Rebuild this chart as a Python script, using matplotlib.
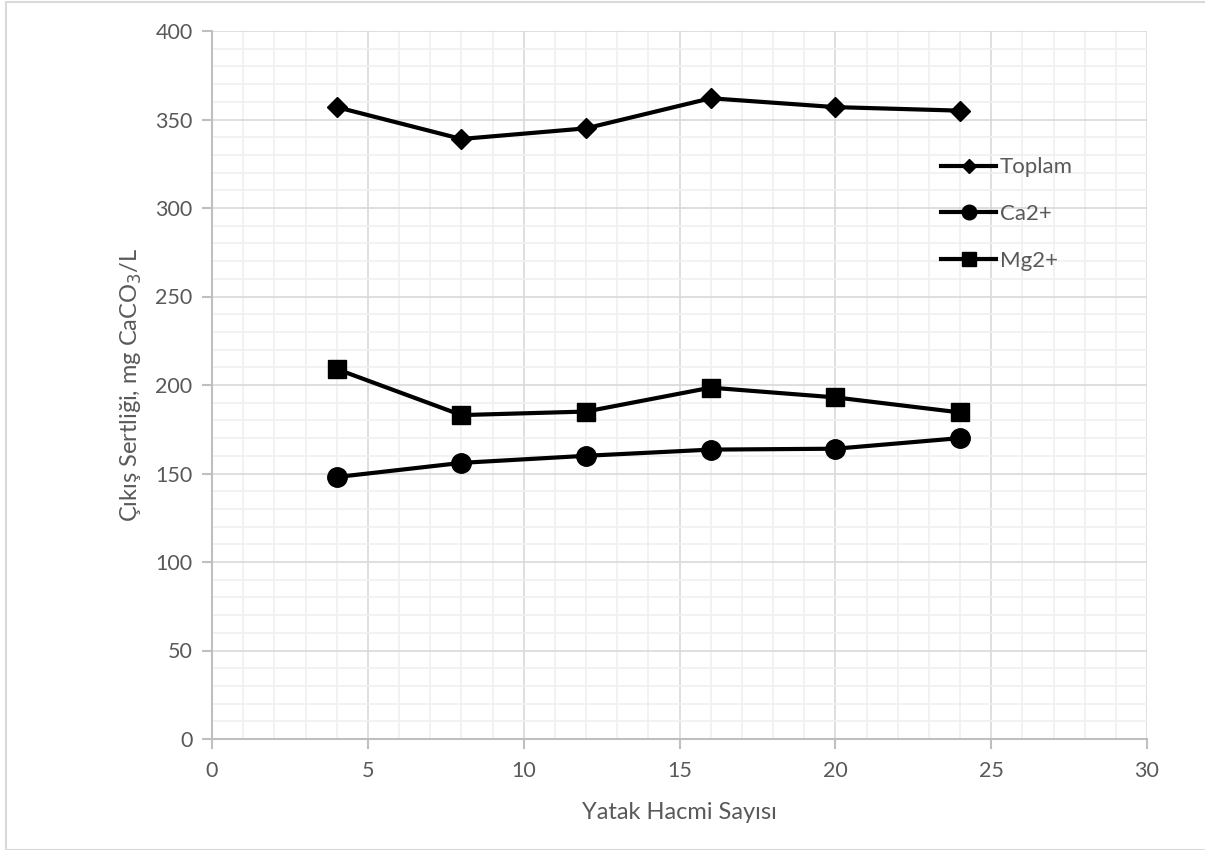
import matplotlib.pyplot as plt
from matplotlib.patches import Rectangle
from matplotlib.ticker import MultipleLocator

# Data
yatak_hacmi = [4, 8, 12, 16, 20, 24]
toplam = [357, 339, 345, 362, 357, 355]
ca2 = [148, 156, 160, 163.5, 164, 170]
mg2 = [209, 183, 185, 198.5, 193, 184.5]

plt.rcParams['font.family'] = ['Lato', 'DejaVu Sans']
text_color = "#595959"

fig = plt.figure(figsize=(12.05, 8.5), dpi=100)
ax = fig.add_axes([212 / 1205, 1 - 739 / 850, (1147 - 212) / 1205, (739 - 31) / 850])

# Outer chart border
fig.patches.append(Rectangle((6 / 1205, 0), 1.1, 1 - 2 / 850, transform=fig.transFigure,
                             fill=False, edgecolor="#d9d9d9", linewidth=1.5))

ax.plot(yatak_hacmi, toplam, color="black", linewidth=3, marker="D", markersize=10, label="Toplam")
ax.plot(yatak_hacmi, ca2, color="black", linewidth=3, marker="o", markersize=14, label="Ca2+")
ax.plot(yatak_hacmi, mg2, color="black", linewidth=3, marker="s", markersize=13, label="Mg2+")

ax.set_xlim(0, 30)
ax.set_ylim(0, 400)
ax.xaxis.set_major_locator(MultipleLocator(5))
ax.xaxis.set_minor_locator(MultipleLocator(1))
ax.yaxis.set_major_locator(MultipleLocator(50))
ax.yaxis.set_minor_locator(MultipleLocator(10))
ax.grid(which="major", color="#d9d9d9", linewidth=1.2)
ax.grid(which="minor", color="#f0f0f0", linewidth=1.2)
ax.set_axisbelow(True)

for side in ["top", "right"]:
    ax.spines[side].set_visible(False)
for side in ["left", "bottom"]:
    ax.spines[side].set_color("#bfbfbf")
    ax.spines[side].set_linewidth(1.5)

ax.tick_params(which="major", length=7, width=1.5, color="#bfbfbf", labelsize=15.5,
               labelcolor=text_color, pad=7)
ax.tick_params(axis="x", which="major", pad=9)
ax.tick_params(which="minor", length=0)

ax.set_xlabel("Yatak Hacmi Sayısı", fontsize=17, color=text_color, labelpad=15)
ax.set_ylabel("Çıkış Sertliği, mg CaCO$_3$/L", fontsize=17, color=text_color, labelpad=8)

ax.legend(loc="upper left", bbox_to_anchor=(0.77, 0.834), frameon=False, fontsize=16,
          labelcolor=text_color, handlelength=2.5, handletextpad=0.15, labelspacing=1.2,
          markerscale=0.75, borderaxespad=0)

fig.savefig("out.png", dpi=100)
